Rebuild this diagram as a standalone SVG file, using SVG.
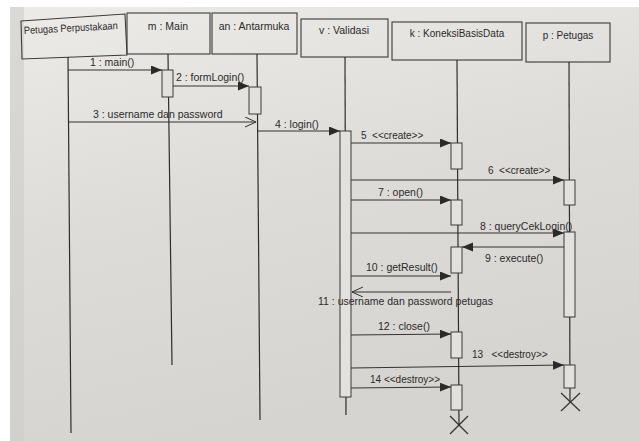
<svg xmlns="http://www.w3.org/2000/svg" width="639" height="441" viewBox="0 0 639 441">
  <defs>
    <linearGradient id="paper" x1="0" y1="0" x2="0.3" y2="1">
      <stop offset="0" stop-color="#ecebe7"/>
      <stop offset="0.5" stop-color="#dedcd8"/>
      <stop offset="1" stop-color="#d6d4d0"/>
    </linearGradient>
    <marker id="fill" markerUnits="userSpaceOnUse" markerWidth="12" markerHeight="10" refX="11" refY="4.5" orient="auto">
      <path d="M0,0 L11,4.5 L0,9 z" fill="#2a2a2a"/>
    </marker>
    <marker id="open" markerUnits="userSpaceOnUse" markerWidth="12" markerHeight="12" refX="11" refY="5" orient="auto">
      <path d="M0,0 L11,5 L0,10" fill="none" stroke="#333" stroke-width="1"/>
    </marker>
  </defs>
  <style>
    .box { fill: none; stroke: #3a3a3a; stroke-width: 1.1; }
    .life { stroke: #2e2e2e; stroke-width: 1.2; fill: none; }
    .act { fill: #e2e1dd; stroke: #3a3a3a; stroke-width: 1; }
    .msg { stroke: #333; stroke-width: 1; fill: none; marker-end: url(#fill); }
    .ret { stroke: #333; stroke-width: 1; fill: none; marker-end: url(#open); }
    .x { stroke: #333; stroke-width: 1.2; }
    text { font-family: "Liberation Sans", Arial, sans-serif; font-size: 10.5px; fill: #2a2a2a; white-space: pre; }
    .t { font-size: 10px; }
    .c { text-anchor: middle; }
  </style>
  <rect width="639" height="441" fill="#ffffff"/>
  <rect x="10" y="7" width="629" height="434" fill="url(#paper)"/>
  <rect x="10" y="7" width="14" height="434" fill="#cfcdc9" opacity="0.6"/>

  <g id="node-petugas-perpustakaan">
    <polygon class="box" points="21,21 125,14 127,55 22,59"/>
    <text x="24" y="34" font-size="10" textLength="94" lengthAdjust="spacingAndGlyphs" transform="rotate(-3 24 34)">Petugas Perpustakaan</text>
    <line class="life" x1="68" y1="57" x2="71" y2="433"/>
  </g>
  <g id="node-main">
    <rect class="box" x="127" y="13" width="83" height="41"/>
    <text class="c" x="168" y="30">m : Main</text>
    <line class="life" x1="168" y1="54" x2="172" y2="365"/>
    <rect class="act" x="162" y="70" width="11" height="27"/>
  </g>
  <g id="node-antarmuka">
    <rect class="box" x="212" y="13" width="85" height="41"/>
    <text class="c" x="254" y="30">an : Antarmuka</text>
    <line class="life" x1="257" y1="54" x2="260" y2="420"/>
    <rect class="act" x="249" y="87" width="12" height="27"/>
  </g>
  <g id="node-validasi">
    <rect class="box" x="301" y="19" width="87" height="38"/>
    <text class="c" x="344" y="34">v : Validasi</text>
    <line class="life" x1="345" y1="57" x2="346" y2="415"/>
    <rect class="act" x="340" y="131" width="11" height="266"/>
  </g>
  <g id="node-koneksi">
    <rect class="box" x="392" y="22" width="130" height="38"/>
    <text class="c t" x="457" y="37">k : KoneksiBasisData</text>
    <line class="life" x1="457" y1="60" x2="459" y2="425"/>
    <rect class="act" x="451" y="143" width="11" height="26"/>
    <rect class="act" x="451" y="200" width="11" height="25"/>
    <rect class="act" x="451" y="247" width="11" height="26"/>
    <rect class="act" x="451" y="332" width="11" height="26"/>
    <rect class="act" x="451" y="385" width="11" height="25"/>
    <line class="x" x1="450" y1="416" x2="468" y2="434"/>
    <line class="x" x1="468" y1="416" x2="450" y2="434"/>
  </g>
  <g id="node-petugas">
    <rect class="box" x="526" y="23" width="84" height="39"/>
    <text class="c t" x="568" y="39">p : Petugas</text>
    <line class="life" x1="569" y1="62" x2="570" y2="402"/>
    <rect class="act" x="564" y="180" width="11" height="25"/>
    <rect class="act" x="564" y="232" width="11" height="85"/>
    <rect class="act" x="564" y="365" width="11" height="23"/>
    <line class="x" x1="561" y1="393" x2="580" y2="411"/>
    <line class="x" x1="580" y1="393" x2="561" y2="411"/>
  </g>

  <g id="connectors">
    <line class="msg" x1="68" y1="70" x2="162" y2="70"/>
    <text x="90" y="66">1 : main()</text>
    <line class="msg" x1="173" y1="86" x2="249" y2="86"/>
    <text x="176" y="81">2 : formLogin()</text>
    <line class="ret" x1="69" y1="122" x2="256" y2="122"/>
    <text x="93" y="118">3 : username dan password</text>
    <line class="msg" x1="257" y1="131" x2="340" y2="131"/>
    <text x="275" y="128">4 : login()</text>
    <line class="msg" x1="351" y1="143" x2="451" y2="143"/>
    <text class="t" x="361" y="139" xml:space="preserve">5  &lt;&lt;create&gt;&gt;</text>
    <line class="msg" x1="351" y1="180" x2="564" y2="180"/>
    <text class="t" x="488" y="174" xml:space="preserve">6  &lt;&lt;create&gt;&gt;</text>
    <line class="msg" x1="351" y1="200" x2="451" y2="200"/>
    <text x="378" y="196">7 : open()</text>
    <line class="msg" x1="351" y1="233" x2="564" y2="233"/>
    <text x="480" y="230">8 : queryCekLogin()</text>
    <line class="msg" x1="564" y1="247" x2="462" y2="247"/>
    <text x="485" y="262">9 : execute()</text>
    <line class="msg" x1="351" y1="276" x2="451" y2="276"/>
    <text x="366" y="271">10 : getResult()</text>
    <line class="ret" x1="451" y1="292" x2="352" y2="292"/>
    <text x="318" y="305">11 : username dan password petugas</text>
    <line class="msg" x1="351" y1="335" x2="451" y2="334"/>
    <text x="378" y="330">12 : close()</text>
    <line class="msg" x1="351" y1="368" x2="564" y2="365"/>
    <text class="t" x="472" y="358" xml:space="preserve">13   &lt;&lt;destroy&gt;&gt;</text>
    <line class="msg" x1="351" y1="388" x2="451" y2="387"/>
    <text class="t" x="370" y="383">14 &lt;&lt;destroy&gt;&gt;</text>
  </g>
</svg>
